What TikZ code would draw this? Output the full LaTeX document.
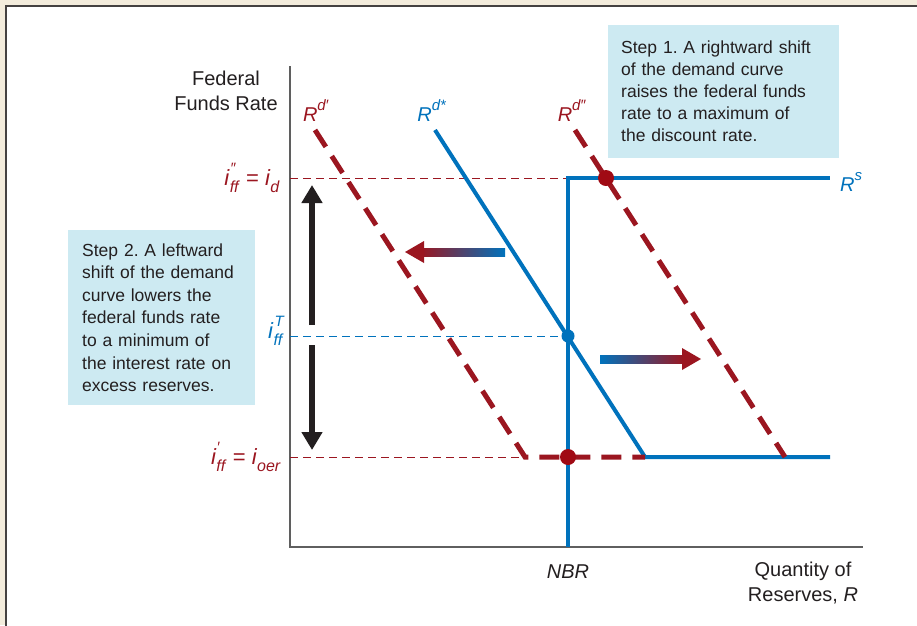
\documentclass[tikz,border=0pt]{standalone}
\usepackage{fontspec}
\setmainfont{Liberation Sans}
\frenchspacing
\definecolor{cblue}{RGB}{0,114,188}
\definecolor{cred}{RGB}{155,22,32}
\definecolor{cdot}{RGB}{160,10,20}
\definecolor{caxis}{RGB}{95,95,95}
\definecolor{cbox}{RGB}{205,234,242}
\definecolor{cbg}{RGB}{243,236,220}
\definecolor{ctext}{RGB}{35,31,32}
\newcommand\ssup[1]{\raisebox{0.55em}{\fontsize{15}{15}\selectfont #1}}
\newcommand\ssub[1]{\raisebox{-0.3em}{\fontsize{16}{16}\selectfont #1}}
\newcommand\supsub[2]{\makebox[0pt][l]{\hspace{1pt}\ssup{#1}}\ssub{#2}}
\tikzset{
  axisline/.style={draw=caxis,line width=1.6pt},
  bluecurve/.style={draw=cblue,line width=4pt},
  redcurve/.style={draw=cred,line width=5pt,dash pattern=on 20pt off 11pt},
  thinred/.style={draw=cred,line width=1pt,dash pattern=on 8pt off 5pt},
  thinblue/.style={draw=cblue,line width=1pt,dash pattern=on 8pt off 5pt},
  stepbox/.style={fill=cbox,text=ctext,align=left,inner sep=0pt,font=\fontsize{17.5}{22}\selectfont},
  lbl/.style={font=\fontsize{20}{25}\selectfont,text=ctext,inner sep=0pt},
  mlbl/.style={font=\fontsize{22}{25}\selectfont,inner sep=0pt},
  dotmark/.style={circle,fill=cdot,inner sep=0pt,minimum size=16pt},
  blackarrow/.style={draw=ctext,line width=6pt,-{Triangle[length=18pt,width=20pt]}},
}
\usetikzlibrary{arrows.meta}
\begin{document}
\begin{tikzpicture}[x=1pt,y=-1pt]
\useasboundingbox (0,0) rectangle (917,625);
\fill[cbg] (0,0) rectangle (917,625);
\fill[white,draw=ctext!85,line width=2pt] (6,6) rectangle (940,650);
% axes
\coordinate (O) at (290,547);
\coordinate (ytop) at (290,66);
\coordinate (xend) at (863,547);
\draw[axisline] (ytop) -- (O) -- (xend);
% thin dashed guide lines
\coordinate (yd) at (290,178);
\coordinate (yT) at (290,336);
\coordinate (yo) at (290,457);
\coordinate (sk) at (568,178);
\coordinate (eT) at (568,336);
\coordinate (e1) at (525,457);
\draw[thinred] (yd) -- (sk);
\draw[thinblue] (yT) -- (eT);
\draw[thinred] (yo) -- (e1);
% supply curve
\coordinate (sb) at (568,547);
\coordinate (se) at (830,178);
\draw[bluecurve] (sb) -- (sk) -- (se);
% Rd*
\coordinate (a1) at (435,130);
\coordinate (a2) at (645,457);
\coordinate (a3) at (830,457);
\draw[bluecurve] (a1) -- (a2) -- (a3);
% Rd'
\coordinate (b1) at (315,130);
\draw[redcurve] (b1) -- (e1) -- (a2);
% Rd''
\coordinate (c1) at (575,130);
\coordinate (c2) at (785,457);
\draw[redcurve] (c1) -- (c2);
% dots
\node[dotmark] (d1) at (606,178) {};
\node[dotmark] (d2) at (568,457) {};
\node[circle,fill=cblue,inner sep=0pt,minimum size=13pt] (d3) at (eT) {};
% gradient arrows
\shade[left color=cred,right color=cblue] (421,248) rectangle (505,256);
\fill[cred] (405,252) -- (424,241) -- (424,263) -- cycle;
\shade[left color=cblue,right color=cred] (600,355) rectangle (684,363);
\fill[cred] (701,359) -- (682,348) -- (682,370) -- cycle;
% black arrows
\coordinate (up0) at (312,325);
\coordinate (up1) at (312,185);
\coordinate (dn0) at (312,345);
\coordinate (dn1) at (312,450);
\draw[blackarrow] (up0) -- (up1);
\draw[blackarrow] (dn0) -- (dn1);
% labels
\node[lbl,align=center] (ylab) at (226,91) {Federal\\Funds Rate};
\node[mlbl,anchor=east] (lid) at (280,178) {\color{cred}\textit{i}\supsub{″}{\textit{ff}} = \textit{i}\ssub{\textit{d}}};
\node[mlbl,anchor=east] (liT) at (284,331) {\color{cblue}\textit{i}\supsub{\textit{T}}{\textit{ff}}};
\node[mlbl,anchor=east] (lio) at (281,457) {\color{cred}\textit{i}\supsub{′}{\textit{ff}} = \textit{i}\ssub{\textit{oer}}};
\node[lbl,anchor=base] (lrd1) at (316,121) {\color{cred}\textit{R}\ssup{\textit{d}′}};
\node[lbl,anchor=base] (lrd2) at (432,121) {\color{cblue}\textit{R}\ssup{\textit{d}*}};
\node[lbl,anchor=base] (lrd3) at (572,121) {\color{cred}\textit{R}\ssup{\textit{d}″}};
\node[lbl,anchor=west] (lrs) at (840,182) {\color{cblue}\textit{R}\ssup{\textit{s}}};
\node[lbl] (lnbr) at (568,572) {\textit{NBR}};
\node[lbl,align=center] (lq) at (803,583) {Quantity of\\Reserves, \textit{R}};
% step boxes
\node[stepbox,anchor=north west,minimum width=231pt,minimum height=133pt,text width=205pt,inner xsep=13pt,inner ysep=11pt] (s1) at (608,25)
{Step 1. A rightward shift\\of the demand curve\\raises the federal funds\\rate to a maximum of\\the discount rate.};
\node[stepbox,anchor=north west,minimum width=187pt,minimum height=175pt,text width=159pt,inner xsep=14pt,inner ysep=6pt,font=\fontsize{17.5}{22.6}\selectfont] (s2) at (68,230)
{Step 2. A leftward\\shift of the demand\\curve lowers the\\federal funds rate\\to a minimum of\\the interest rate on\\excess reserves.};
\end{tikzpicture}
\end{document}
